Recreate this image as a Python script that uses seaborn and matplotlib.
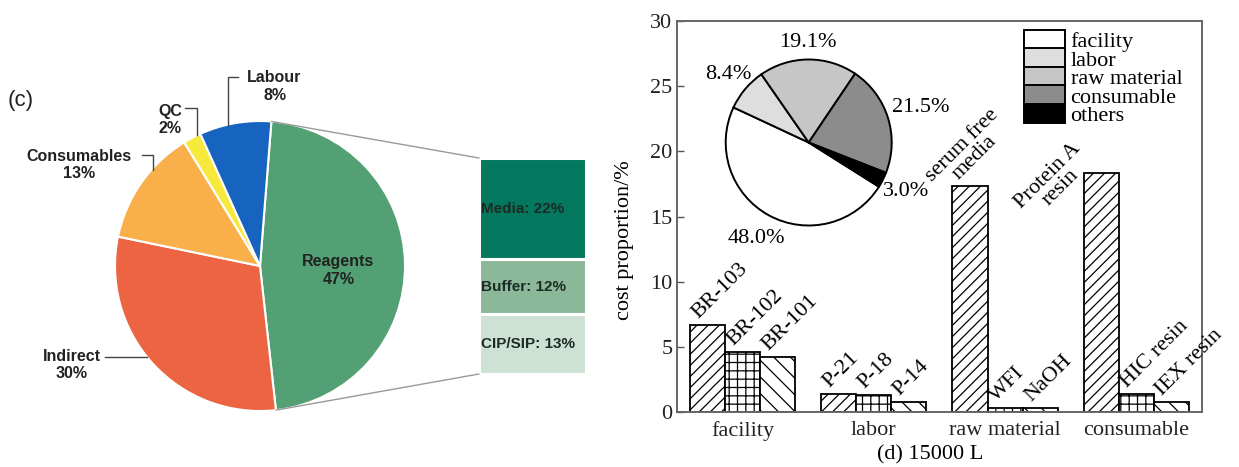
import numpy as np
import pandas as pd
import matplotlib
matplotlib.use("Agg")
import matplotlib.pyplot as plt
import seaborn as sns
from matplotlib.patches import Patch, ConnectionPatch

# ---------------- data ----------------
# (c) cost breakdown
cost_labels = ["Reagents", "Indirect", "Consumables", "QC", "Labour"]
cost_shares = [47, 30, 13, 2, 8]
cost_colors = ["#52a074", "#ec6442", "#f9b04a", "#f6e93c", "#1664c0"]

# reagent split shown in the side column
reagent_parts = ["Media", "Buffer", "CIP/SIP"]
reagent_shares = [22, 12, 13]
reagent_colors = ["#03785f", "#8cb89a", "#cde2d4"]

# (d) 15000 L: cost proportion of individual items
groups = ["facility", "labor", "raw material", "consumable"]
facility_items = ["BR-103", "BR-102", "BR-101"]
facility_values = [6.7, 4.6, 4.2]
labor_items = ["P-21", "P-18", "P-14"]
labor_values = [1.4, 1.3, 0.8]
material_items = ["serum free\nmedia", "WFI", "NaOH"]
material_values = [17.3, 0.3, 0.3]
consumable_items = ["Protein A\nresin", "HIC resin", "IEX resin"]
consumable_values = [18.3, 1.4, 0.8]

# (d) overall share by category
share_labels = ["facility", "labor", "raw material", "consumable", "others"]
share_values = [48.0, 8.4, 19.1, 21.5, 3.0]
share_colors = ["#ffffff", "#dedede", "#c6c6c6", "#8c8c8c", "#000000"]

W, H = 1239, 467
fig = plt.figure(figsize=(W / 100, H / 100), dpi=100)


def box(x0, y0, x1, y1):
    """Axes rectangle from pixel corners (origin top-left)."""
    return [x0 / W, 1 - y1 / H, (x1 - x0) / W, (y1 - y0) / H]


SANS = "Liberation Sans"
SERIF = "Liberation Serif"
FS = 16
plt.rcParams["hatch.linewidth"] = 0.9

# ---------------- (c) pie ----------------
axc = fig.add_axes(box(115, 121, 405, 411))
wedges, _ = axc.pie(cost_shares, colors=cost_colors, startangle=85.5,
                    counterclock=False, radius=1,
                    wedgeprops=dict(edgecolor="white", linewidth=1.5))
axc.set_xlim(-1, 1)
axc.set_ylim(-1, 1)
axc.set_aspect("auto")
axc.axis("off")

lab_kw = dict(family=SANS, fontsize=11.5, fontweight="bold", color="#222222",
              ha="center", va="center", linespacing=1.2)
axc.text(0.54, -0.03, f"{cost_labels[0]}\n{cost_shares[0]}%", **lab_kw)
axc.text(0.10, 1.237, f"{cost_labels[4]}\n{cost_shares[4]}%", clip_on=False, **lab_kw)
axc.text(-0.62, 1.007, f"{cost_labels[3]}\n{cost_shares[3]}%", clip_on=False, **lab_kw)
axc.text(-1.25, 0.697, f"{cost_labels[2]}\n{cost_shares[2]}%", clip_on=False, **lab_kw)
axc.text(-1.30, -0.683, f"{cost_labels[1]}\n{cost_shares[1]}%", clip_on=False, **lab_kw)

lead = dict(color="#444444", lw=1.0, clip_on=False)
axc.plot([-0.218, -0.218, -0.149], [0.972, 1.306, 1.306], **lead)
axc.plot([-0.517, -0.437, -0.437], [1.088, 1.088, 0.903], **lead)
axc.plot([-0.816, -0.736, -0.736], [0.766, 0.766, 0.662], **lead)
axc.plot([-1.07, -0.78], [-0.626, -0.626], **lead)

fig.text(21 / W, 1 - 100 / H, "(c)", family=SANS, fontsize=16,
         ha="center", va="center", color="#222222")

# reagent column
axr = fig.add_axes(box(479, 158, 586, 374))
bottom = 0
for part, share, col in zip(reagent_parts, reagent_shares, reagent_colors):
    axr.bar(0, share, bottom=bottom, width=1, color=col,
            edgecolor="white", linewidth=2.2)
    axr.text(-0.485, bottom + share / 2, f"{part}: {share}%", family=SANS,
             fontsize=11, fontweight="bold", color="#1c2b25",
             ha="left", va="center")
    bottom += share
axr.set_xlim(-0.5, 0.5)
axr.set_ylim(sum(reagent_shares), 0)
axr.axis("off")

# lines joining the reagent wedge to the column
th_top = np.deg2rad(wedges[0].theta2)
th_bot = np.deg2rad(wedges[0].theta1)
for th, yb in [(th_top, 0), (th_bot, sum(reagent_shares))]:
    con = ConnectionPatch(xyA=(np.cos(th), np.sin(th)), coordsA=axc.transData,
                          xyB=(-0.5, yb), coordsB=axr.transData,
                          color="#9a9a9a", lw=1.0)
    fig.add_artist(con)

# ---------------- (d) bars ----------------
ax = fig.add_axes(box(676.7, 20.7, 1202, 412.3))
item_lists = [facility_items, labor_items, material_items, consumable_items]
value_lists = [facility_values, labor_values, material_values, consumable_values]
rows = []
for g, its, vals in zip(groups, item_lists, value_lists):
    for k, (it, v) in enumerate(zip(its, vals)):
        rows.append(dict(group=g, slot=str(k), item=it, value=v))
df = pd.DataFrame(rows)

sns.barplot(data=df, x="group", y="value", hue="slot", order=groups,
            hue_order=["0", "1", "2"], palette=["white"] * 3, saturation=1,
            edgecolor="black", linewidth=1.3, width=0.8, legend=False, ax=ax)

hatches = ["///", "++", "\\\\"]
for k, cont in enumerate(ax.containers):
    sub = df[df.slot == str(k)].set_index("group").loc[groups]
    for bar, it in zip(cont, sub["item"]):
        bar.set_hatch(hatches[k])
        xc = bar.get_x() + bar.get_width() / 2
        top = bar.get_height()
        if it.startswith("Protein"):
            ax.annotate(it, (xc, top), xytext=(-34, -6), textcoords="offset points",
                        rotation=45, rotation_mode="anchor", ha="center", va="center",
                        multialignment="center", family=SERIF, fontsize=FS,
                        linespacing=0.9)
        elif it.startswith("serum"):
            ax.annotate(it, (xc, top), xytext=(-16, -8), textcoords="offset points",
                        rotation=45, rotation_mode="anchor", ha="left", va="bottom",
                        multialignment="center", family=SERIF, fontsize=FS,
                        linespacing=0.9)
        else:
            ax.annotate(it, (xc, top), xytext=(-4, 2), textcoords="offset points",
                        rotation=45, rotation_mode="anchor", ha="left", va="bottom",
                        family=SERIF, fontsize=FS)

ax.set_xlim(-0.5, 3.5)
ax.set_ylim(0, 30)
ax.set_yticks(range(0, 31, 5))
ax.set_xlabel("(d) 15000 L", family=SERIF, fontsize=FS)
ax.xaxis.set_label_coords(0.482, -0.0835)
ax.set_ylabel("cost proportion/%", family=SERIF, fontsize=FS)
ax.yaxis.set_label_coords(-0.082, 0.44)
ax.tick_params(axis="y", direction="in", length=5, width=1.0, pad=3,
               labelsize=FS, color="#555555")
ax.tick_params(axis="x", length=0, pad=6, labelsize=FS)
for lab in ax.get_xticklabels() + ax.get_yticklabels():
    lab.set_family(SERIF)
    lab.set_color("#222222")
for sp in ax.spines.values():
    sp.set_color("#666666")
    sp.set_linewidth(1.4)

handles = [Patch(facecolor=c, edgecolor="black", linewidth=1.4) for c in share_colors]
leg = ax.legend(handles, share_labels, loc="upper left",
                bbox_to_anchor=(0.661, 0.976), frameon=False, borderaxespad=0,
                borderpad=0, labelspacing=-0.18, handlelength=1.85,
                handleheight=0.97, handletextpad=0.25,
                prop=dict(family=SERIF, size=FS))

# inset pie of category shares
axp = fig.add_axes(box(725.7, 59.5, 891.7, 225.5))
pw, _ = axp.pie(share_values, colors=share_colors, startangle=327.8,
                counterclock=False, radius=1,
                wedgeprops=dict(edgecolor="black", linewidth=1.4))
axp.set_xlim(-1, 1)
axp.set_ylim(-1, 1)
axp.axis("off")
label_dist = [1.32, 1.27, 1.2, 1.42, 1.32]
for w, v, d in zip(pw, share_values, label_dist):
    th = np.deg2rad((w.theta1 + w.theta2) / 2)
    axp.text(d * np.cos(th), d * np.sin(th), f"{v:.1f}%", family=SERIF,
             fontsize=FS, ha="center", va="center", clip_on=False)

fig.savefig("out.png", dpi=100)
